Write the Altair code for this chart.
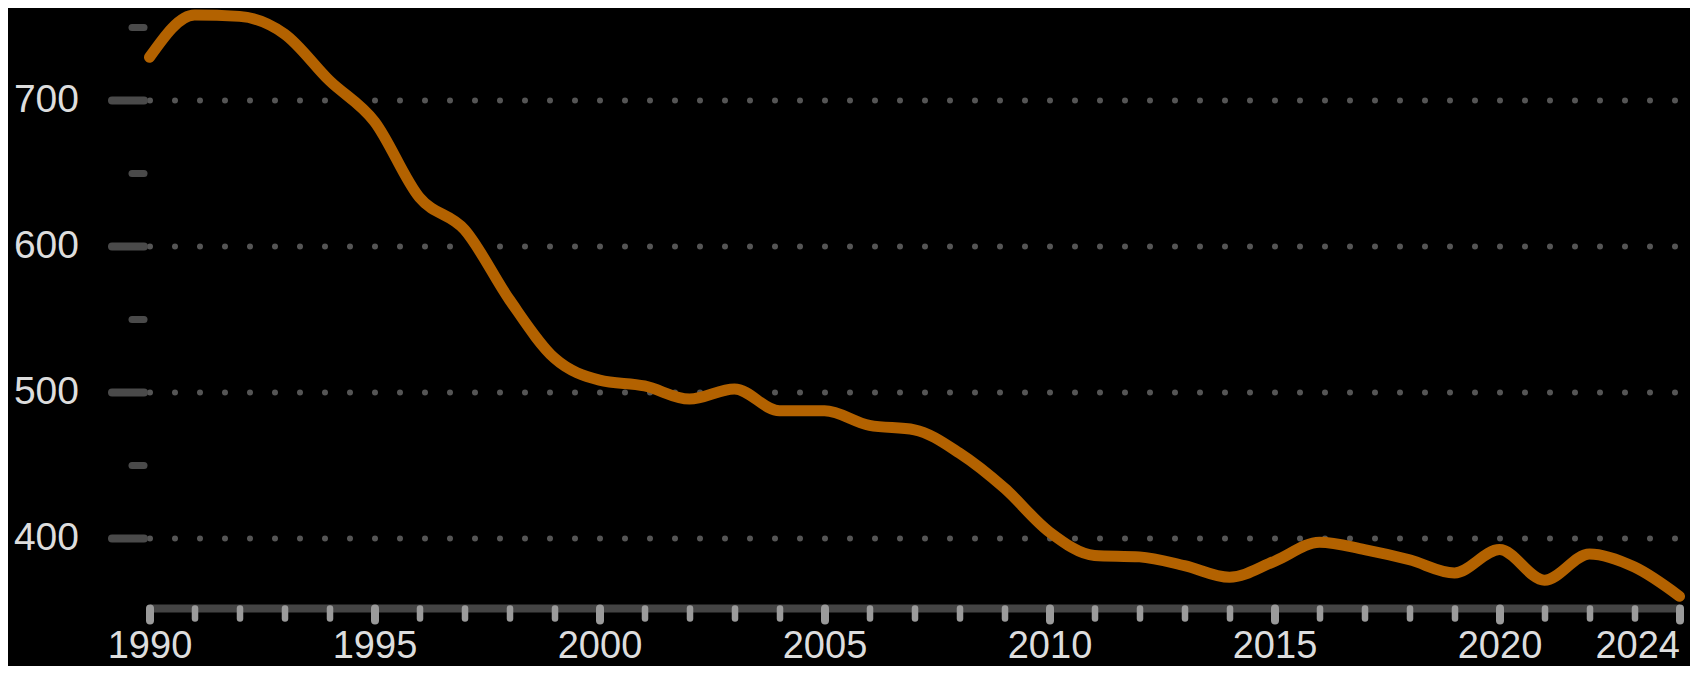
import altair as alt
import pandas as pd

years = list(range(1990, 2025))
values = [729, 758, 757, 745, 713, 685, 633, 611, 563, 523,
          508, 504, 495, 502, 487, 487, 477, 474, 458, 434,
          404, 388, 387, 381, 373, 384, 397, 392, 385, 376,
          392, 371, 389, 380, 360]

x_major = [1990, 1995, 2000, 2005, 2010, 2015, 2020, 2024]
x_minor = years
y_major = [400, 500, 600, 700]
y_minor = [450, 550, 650, 750]

df = pd.DataFrame({"year": years, "value": values})

FONT = "Liberation Sans"
xscale = alt.Scale(domain=[1990, 2024], nice=False, zero=False)
yscale = alt.Scale(domain=[352, 760], nice=False, zero=False)

base = alt.Chart(df)

# layer 0: x domain line + y minor ticks
l0 = base.mark_line(opacity=0).encode(
    x=alt.X("year:Q", scale=xscale,
            axis=alt.Axis(orient="bottom", domain=True, domainColor="#444444",
                          domainWidth=8, domainCap="butt", ticks=False,
                          labels=False, grid=False, title=None)),
    y=alt.Y("value:Q", scale=yscale,
            axis=alt.Axis(orient="left", values=y_minor, offset=6, domain=False,
                          ticks=True, tickSize=12, tickWidth=7, tickColor="#4a4a4a",
                          tickCap="round", labels=False, grid=False, title=None)),
)

# layer 1: x minor ticks
l1 = base.mark_line(opacity=0).encode(
    x=alt.X("year:Q", scale=xscale,
            axis=alt.Axis(orient="bottom", values=x_minor, domain=False,
                          ticks=True, tickSize=10, tickWidth=6.5, tickColor="#9a9a9a",
                          tickCap="round", labels=False, grid=False, title=None)),
    y=alt.Y("value:Q", scale=yscale, axis=None),
)

# layer 2: the data line with major axes
l2 = base.mark_line(color="#b36200", strokeWidth=11, interpolate="monotone",
                    strokeCap="round", strokeJoin="round").encode(
    x=alt.X("year:Q", scale=xscale,
            axis=alt.Axis(orient="bottom", values=x_major, domain=False,
                          ticks=True, tickSize=12, tickWidth=8, tickColor="#9a9a9a",
                          tickCap="round", labels=True, labelFont=FONT,
                          labelFontSize=38, labelColor="#dddddd", labelPadding=7,
                          labelAlign=alt.condition("datum.value == 2024",
                                                   alt.value("right"),
                                                   alt.value("center")),
                          format="d", grid=False, title=None)),
    y=alt.Y("value:Q", scale=yscale,
            axis=alt.Axis(orient="left", values=y_major, offset=6, domain=False,
                          ticks=True, tickSize=32, tickWidth=8, tickColor="#4a4a4a",
                          tickCap="round", labels=True, labelFont=FONT,
                          labelFontSize=39, labelColor="#dddddd", labelPadding=33,
                          format="d", grid=True, gridColor="#555555", gridWidth=6,
                          gridDash=[0, 25], gridCap="round", title=None)),
)

chart = alt.layer(l0, l1, l2).resolve_axis(
    x="independent", y="independent"
).properties(
    width=1530,
    height=596,
    autosize=alt.AutoSizeParams(type="none"),
    padding={"left": 141.5, "top": 4, "right": 10.5, "bottom": 58},
).configure(background="black").configure_view(strokeWidth=0)

chart.save("out.html", embed_options={"renderer": "svg", "actions": False})
